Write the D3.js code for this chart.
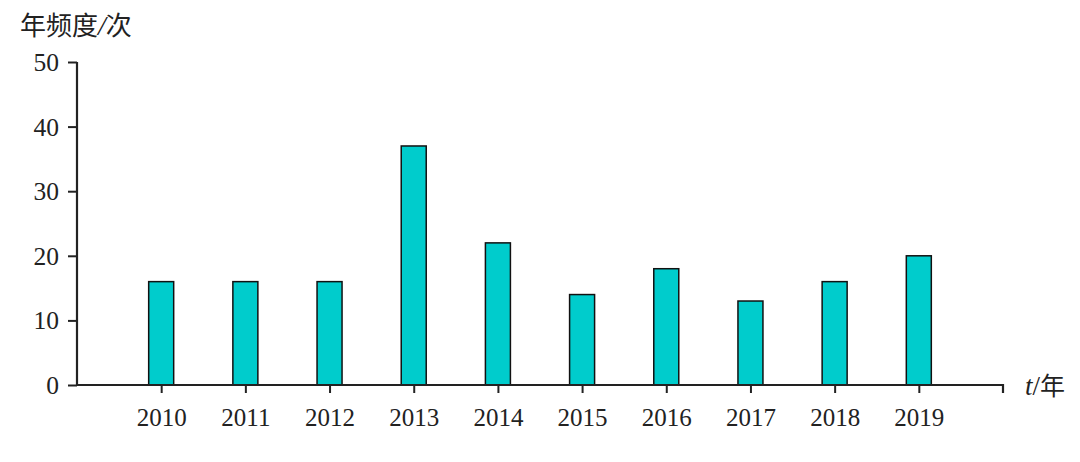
<!DOCTYPE html>
<html><head><meta charset="utf-8">
<script src="https://cdn.jsdelivr.net/npm/d3@7"></script>
<style>body{margin:0;background:#fff;}</style>
</head><body>
<svg id="c" width="1080" height="462"></svg>
<script>
const years = ["2010","2011","2012","2013","2014","2015","2016","2017","2018","2019"];
const counts = [16,16,16,37,22,14,18,13,16,20];
const yTicks = [0,10,20,30,40,50];

const svg = d3.select("#c");
const x0 = 77, x1 = 1003, yBottom = 385, yTop = 62;
const x = d3.scalePoint().domain(years).range([x0, x1]).padding(1);
const y = d3.scaleLinear().domain([0,50]).range([yBottom, yTop]);
const barW = 25;
const serif = "'Liberation Serif','Times New Roman',serif";
const cjk = "'Noto Sans CJK SC',sans-serif";
const axisCol = "#222";

svg.selectAll("rect.bar").data(years).enter().append("rect")
  .attr("x", d => x(d) - barW/2)
  .attr("y", (d,i) => y(counts[i]))
  .attr("width", barW)
  .attr("height", (d,i) => y(0) - y(counts[i]))
  .attr("fill", "#00cccc")
  .attr("stroke", "#111")
  .attr("stroke-width", 1.5);

// y axis
const ya = svg.append("g").attr("transform", `translate(${x0},0)`)
  .call(d3.axisLeft(y).tickValues(yTicks).tickSize(9).tickPadding(9));
ya.select(".domain").attr("d", `M0,${yTop}V${yBottom}`).attr("stroke", axisCol).attr("stroke-width", 2.2);
ya.selectAll(".tick line").attr("stroke", axisCol).attr("stroke-width", 2);
ya.selectAll(".tick text").attr("font-family", serif).attr("font-size", 25.5).attr("fill", "#222").attr("dy", "0.33em");

// x axis
const xa = svg.append("g").attr("transform", `translate(0,${yBottom})`)
  .call(d3.axisBottom(x).tickSize(8).tickPadding(0));
xa.select(".domain").attr("d", `M${x0},0H${x1}V8`).attr("stroke", axisCol).attr("stroke-width", 2.2).attr("fill","none");
xa.selectAll(".tick line").attr("stroke", axisCol).attr("stroke-width", 2);
xa.selectAll(".tick text").attr("font-family", serif).attr("font-size", 25).attr("fill", "#222")
  .attr("dy", null).attr("y", 41);

// titles
const yl = svg.append("text").attr("x", 20).attr("y", 35).attr("fill", "#222");
yl.append("tspan").attr("font-family", cjk).attr("font-size", 26).text("年频度");
yl.append("tspan").attr("font-family", serif).attr("font-size", 28).attr("font-style", "italic").text("/");
yl.append("tspan").attr("font-family", cjk).attr("font-size", 26).text("次");

const xl = svg.append("text").attr("x", 1025).attr("y", 395).attr("fill", "#222");
xl.append("tspan").attr("font-family", serif).attr("font-style", "italic").attr("font-size", 27).text("t");
xl.append("tspan").attr("font-family", serif).attr("font-size", 27).text("/");
xl.append("tspan").attr("font-family", cjk).attr("font-size", 25).text("年");
</script>
</body></html>
